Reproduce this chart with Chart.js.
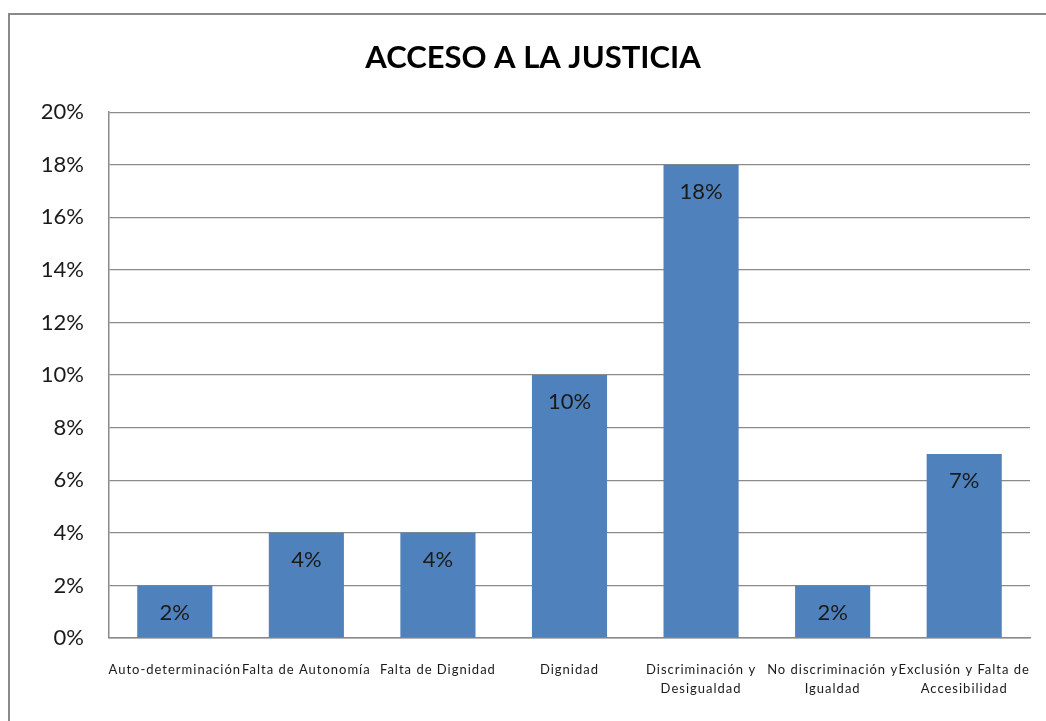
<!DOCTYPE html>
<html>
<head>
<meta charset="utf-8">
<script src="https://cdn.jsdelivr.net/npm/chart.js@4.4.1/dist/chart.umd.min.js"></script>
<style>
html,body{margin:0;padding:0;background:#fff;overflow:hidden;}
#frame{position:absolute;left:8px;top:13px;width:1100px;height:800px;border:2px solid #8a8a8a;box-sizing:border-box;}
#wrap{position:absolute;left:0;top:0;width:1046px;height:721px;}
</style>
</head>
<body>
<div id="frame"></div>
<div id="wrap"><canvas id="c" width="1046" height="721"></canvas></div>
<script>
const titleText = "ACCESO A LA JUSTICIA";
const categories = [
  "Auto-determinación",
  "Falta de Autonomía",
  "Falta de Dignidad",
  "Dignidad",
  ["Discriminación y", "Desigualdad"],
  ["No discriminación y", "Igualdad"],
  ["Exclusión y Falta de", "Accesibilidad"]
];
const values = [2, 4, 4, 10, 18, 2, 7];
const yMin = 0, yMax = 20, yStep = 2;

const FONT = "Lato, 'Open Sans', sans-serif";

const dataLabels = {
  id: 'dataLabels',
  afterDatasetsDraw(chart) {
    const ctx = chart.ctx;
    const meta = chart.getDatasetMeta(0);
    ctx.save();
    ctx.font = "22px " + FONT;
    ctx.fillStyle = "#1a1a1a";
    ctx.textAlign = "center";
    ctx.textBaseline = "middle";
    meta.data.forEach((bar, i) => {
      ctx.fillText(values[i] + "%", bar.x, bar.y + 27);
    });
    ctx.restore();
  }
};

new Chart(document.getElementById('c'), {
  type: 'bar',
  data: {
    labels: categories,
    datasets: [{
      data: values,
      backgroundColor: '#4F81BD',
      borderWidth: 0,
      barPercentage: 0.571,
      categoryPercentage: 1.0
    }]
  },
  options: {
    responsive: false,
    animation: false,
    devicePixelRatio: 1,
    layout: { padding: { left: 36, right: 16, top: 0, bottom: 0 } },
    plugins: {
      legend: { display: false },
      tooltip: { enabled: false },
      title: {
        display: true,
        text: titleText,
        color: '#000',
        font: { family: FONT, size: 31, weight: 'bold', lineHeight: 1.2 },
        padding: { top: 39, bottom: 36 }
      }
    },
    scales: {
      x: {
        grid: { display: false, drawTicks: false },
        border: { display: true, color: '#8a8a8a', width: 1.5 },
        ticks: {
          color: '#1a1a1a',
          font: { family: FONT, size: 13, lineHeight: 1.5 },
          padding: 22,
          maxRotation: 0,
          minRotation: 0,
          autoSkip: false
        },
        afterFit(scale) {
          scale.height = 83;
          if (!scale._lsWrapped) {
            const orig = scale.drawLabels.bind(scale);
            scale.drawLabels = function (area) {
              const c = this.ctx;
              c.save();
              c.letterSpacing = '1px';
              orig(area);
              c.restore();
            };
            scale._lsWrapped = true;
          }
        }
      },
      y: {
        min: yMin,
        max: yMax,
        grid: { color: '#8a8a8a', lineWidth: 1.2, drawTicks: false },
        border: { display: true, color: '#8a8a8a', width: 1.5 },
        ticks: {
          stepSize: yStep,
          color: '#1a1a1a',
          font: { family: FONT, size: 22 },
          padding: 25,
          callback: v => v + '%'
        },
        afterFit(scale) { scale.width = 73; }
      }
    }
  },
  plugins: [dataLabels]
});
</script>
</body>
</html>
